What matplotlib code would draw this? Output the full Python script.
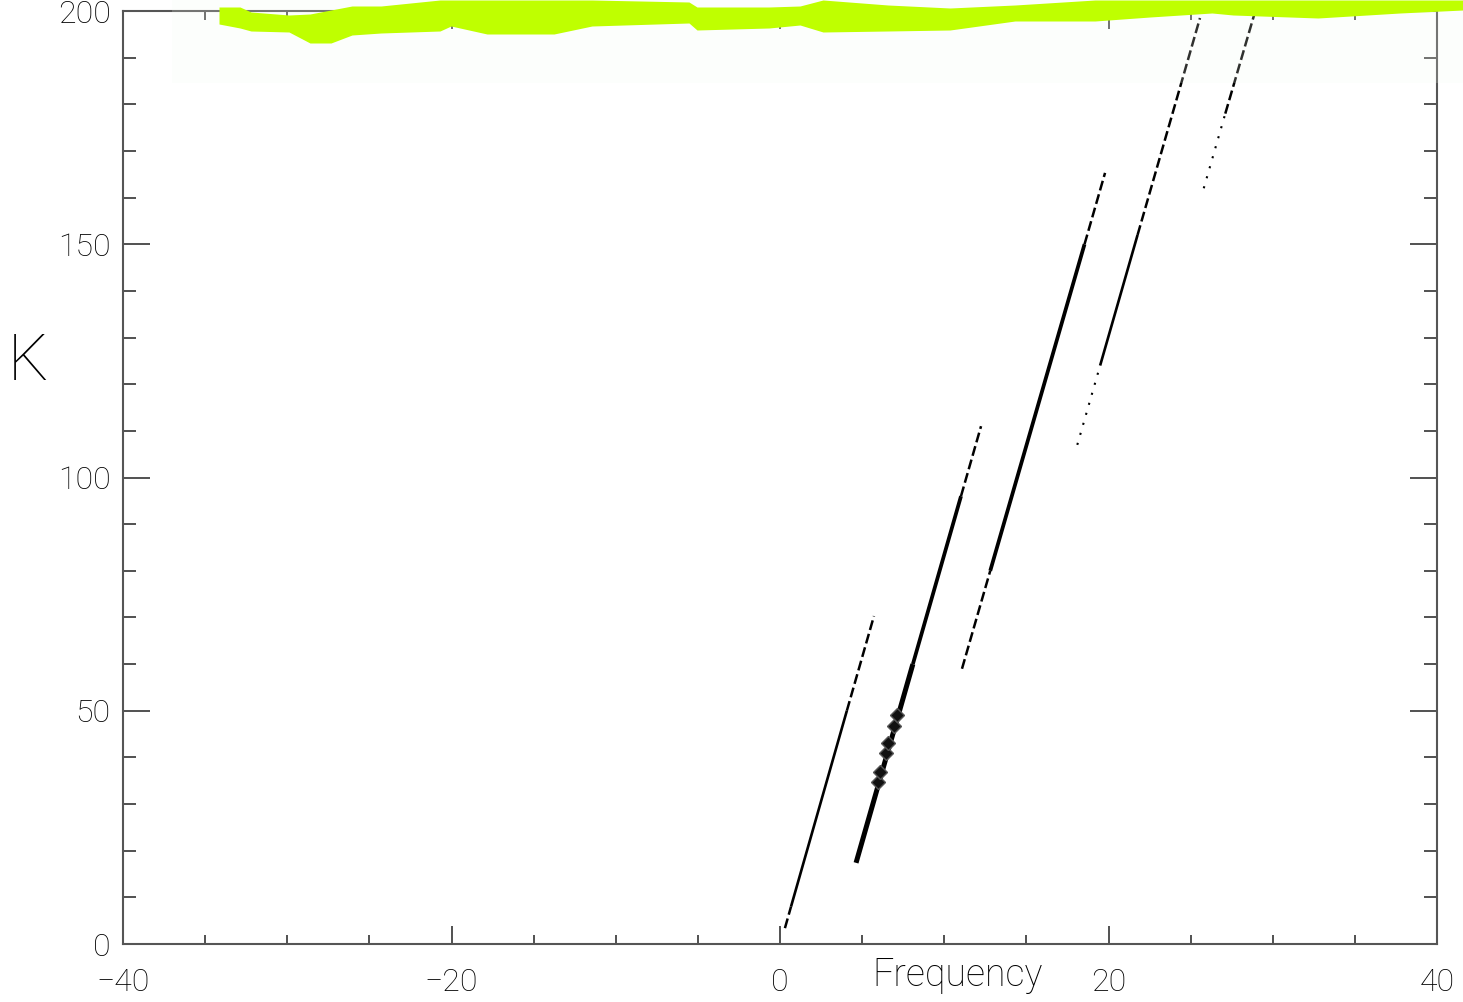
import numpy as np
import matplotlib
matplotlib.use("Agg")
import matplotlib.pyplot as plt

plt.rcParams['font.family'] = ['Roboto', 'DejaVu Sans']

# Ramas de la relacion de dispersion: puntos (frecuencia, K) leidos de la figura
# cada rama: lista de tramos (f_ini, K_ini, f_fin, K_fin, estilo)
branch_a = [
    (0.30, 3.4, 0.67, 8.0, 'dash'),
    (0.67, 8.0, 4.07, 50.0, 'solid'),
    (4.07, 50.0, 5.72, 70.3, 'dash'),
]
branch_b = [
    (4.63, 17.4, 8.09, 60.0, 'thick'),
    (8.09, 60.0, 11.02, 96.0, 'medium'),
    (11.02, 96.0, 12.24, 111.0, 'dash'),
]
branch_c = [
    (11.08, 59.0, 12.80, 80.0, 'dash'),
    (12.80, 80.0, 18.54, 150.0, 'medium'),
    (18.54, 150.0, 19.79, 165.3, 'dash'),
]
branch_d = [
    (18.10, 107.0, 19.49, 124.0, 'dot'),
    (19.49, 124.0, 21.77, 152.0, 'solid'),
    (21.77, 152.0, 25.57, 198.5, 'dash'),
]
branch_e = [
    (25.80, 162.0, 27.11, 178.0, 'dot'),
    (27.11, 178.0, 28.92, 199.8, 'dash'),
]

# pequeños contornos cerrados sobre la rama B
blob_freq = [5.97, 6.09, 6.45, 6.58, 6.94, 7.12]
blob_k = [34.7, 36.9, 40.9, 43.1, 46.7, 49.1]

# marca de resaltador (anotacion encima de la figura, en pixeles)
scribble_x = [219, 240, 251, 289, 310, 331, 352, 381, 440, 451, 487, 554, 592, 689,
              697, 769, 800, 823, 888, 950, 1015, 1095, 1150, 1212, 1233, 1318, 1400, 1463]
scribble_top = [7, 7, 12, 15, 14, 10, 6, 6, 0, 0, 0, 0, 0, 2,
                7, 7, 6, 0, 5, 8, 5, 0, 0, 0, 0, 0, 0, 0]
scribble_bot = [24, 28, 31, 32, 43, 43, 35, 33, 31, 26, 34, 34, 26, 23,
                30, 28, 25, 32, 31, 30, 21, 21, 17, 13, 15, 18, 13, 10]

styles = {
    'solid': dict(lw=1.9, ls='-'),
    'thick': dict(lw=3.6, ls='-'),
    'medium': dict(lw=2.7, ls='-'),
    'dash': dict(lw=1.8, ls=(0, (4, 1.6))),
    'dot': dict(lw=1.5, ls=(0, (1, 4))),
}

fig = plt.figure(figsize=(14.63, 10.02), dpi=100)
ax = fig.add_axes([123 / 1463, 58 / 1002, 1314 / 1463, 933 / 1002])

for branch in [branch_a, branch_b, branch_c, branch_d, branch_e]:
    for f0, k0, f1, k1, st in branch:
        ax.plot([f0, f1], [k0, k1], color='black', solid_capstyle='butt', **styles[st])

ax.plot(blob_freq, blob_k, ls='none', marker='D', markersize=7,
        markerfacecolor='#111111', markeredgecolor='#555555', markeredgewidth=1)

ax.set_xlim(-40, 40)
ax.set_ylim(0, 200)
ax.set_xticks([-40, -20, 0, 20, 40])
ax.set_xticks(np.arange(-40, 41, 5), minor=True)
ax.set_yticks([0, 50, 100, 150, 200])
ax.set_yticks(np.arange(0, 201, 10), minor=True)

for s in ax.spines.values():
    s.set_color('#555555')
    s.set_linewidth(1.5)

ax.tick_params(axis='both', which='both', direction='in', top=True, right=True,
               color='#222222', width=1.1, labelcolor='black', labelsize=23)
ax.tick_params(axis='x', which='major', length=13, pad=17)
ax.tick_params(axis='x', which='minor', length=6.5)
ax.tick_params(axis='y', which='major', length=19.5, pad=9)
ax.tick_params(axis='y', which='minor', length=9.5)
for lab in ax.get_xticklabels() + ax.get_yticklabels():
    lab.set_fontweight('light')

ax.set_xlabel('Frequency', fontsize=27, fontweight='light', color='black', va='center')
ax.xaxis.set_label_coords(0.6355, -0.033)
ax.set_ylabel('K', fontsize=46, fontweight='light', color='black', rotation=0,
              va='center', ha='center')
ax.yaxis.set_label_coords(-0.0723, 0.624)

# capa de anotacion sobre toda la figura
over = fig.add_axes([0, 0, 1, 1], zorder=10)
over.set_xlim(0, 1463)
over.set_ylim(1002, 0)
over.axis('off')
over.patch.set_alpha(0)
over.fill_between([172, 1463], [0, 0], [83, 83], color='#f4faf0', alpha=0.2, lw=0)
over.fill_between(scribble_x, scribble_top, scribble_bot, color='#bfff00', lw=0)

fig.savefig('out.png', dpi=100)
